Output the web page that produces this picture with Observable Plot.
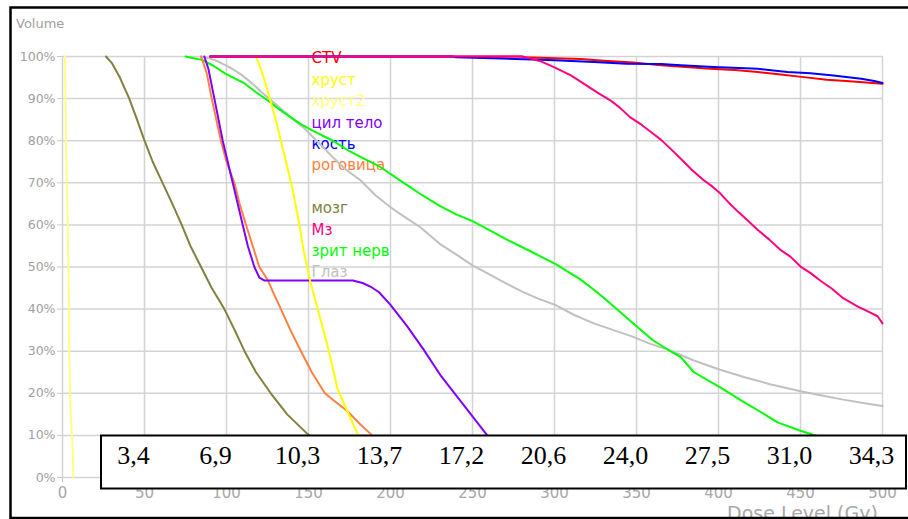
<!DOCTYPE html>
<html><head><meta charset="utf-8">
<script src="https://cdn.jsdelivr.net/npm/d3@7"></script>
<script src="https://cdn.jsdelivr.net/npm/@observablehq/plot@0.6"></script>
<style>html,body{margin:0;padding:0;background:#fff;overflow:hidden} svg{display:block}</style>
</head><body><div id="chart"></div><script>
// ---- tick values / labels ----
const xTicks = [0, 50, 100, 150, 200, 250, 300, 350, 400, 450, 500];
const yTicks = [0, 10, 20, 30, 40, 50, 60, 70, 80, 90, 100];
const boxTickDose = [50, 100, 150, 200, 250, 300, 350, 400, 450, 500];
const boxLabels = ["3,4", "6,9", "10,3", "13,7", "17,2", "20,6", "24,0", "27,5", "31,0", "34,3"];

// ---- series: [dose (Gy), volume (%)] ----
const ctv = [[90,100],[280,100],[282,99.8],[300,99.6],[316,99.4],[330,99.0],[348,98.6],[365,97.9],[380,97.5],[395,97.1],[410,96.8],[424,96.3],[438,95.7],[452,95.1],[466,94.5],[480,94.1],[490,93.8],[500,93.5]];
const khrust = [[118,100],[121,97],[125,92],[130,85],[135,77],[140,69],[144,61],[147,54],[151,46.7],[157.6,37.2],[162.4,30.1],[167.5,21.3],[173.6,15.8],[180,10.3],[184,6],[188,1.5],[189.5,0]];
const khrust2 = [[1.5,100],[2.1,80],[3.2,60],[4,40],[4.1,30],[4.6,20],[5.2,14],[6.2,7],[6.6,0]];
const cilTelo = [[86.5,100],[89,97],[92.6,90],[97.7,80],[103.8,70],[109.9,60],[113,55],[117,50],[120,47.5],[123,46.8],[177,46.8],[183,46.2],[188,45.3],[193,44],[200,41],[210,36],[220,30.5],[231,24],[245,17],[259,10],[270,5],[280,1.5],[288,0]];
const kost = [[90,100],[238,100],[240,99.8],[268,99.5],[300,99.1],[324,98.7],[344,98.3],[365,98.2],[377,97.9],[397,97.5],[424,97.1],[442,96.3],[456,96.0],[470,95.5],[487,94.7],[495,94.2],[500,93.7]];
const rogovica = [[84.5,100],[88,96],[91,90],[96.6,80],[100,75],[104.8,70],[108,65],[111.9,60],[116,55],[120,50],[125,47],[129,43.5],[133.2,40],[139,35],[145.4,30],[152,25],[160,20],[167,17.8],[173.6,15.8],[181.7,12.6],[188,10.3],[195,7],[205,3],[215,0]];
const mozg = [[26.5,100],[30,98.5],[35,95],[40.7,90],[45,85.5],[50,80],[55,75],[61,70],[67,65],[72.7,60],[78,55],[84.5,50],[91,45],[98.7,40],[105,35],[111,30],[118,25],[127,20],[137,15],[149.5,10.3],[160,7],[175,3],[195,0]];
const mz = [[90,100],[280,100],[285,99.6],[292,98.8],[300,97.4],[310,95.5],[318,93.5],[326,91.5],[334,89.6],[340,87.8],[346,85.6],[353,83.8],[360,81.7],[365,80.2],[371,78],[377,75.7],[384,73],[391,70.6],[396,69.2],[401,67.5],[406,65.4],[412,63.1],[418,61],[424,58.8],[431,56.5],[438,54],[444,52.4],[450,50.1],[456,48.6],[462,46.8],[469,44.9],[476,42.6],[485,40.6],[492,39.3],[497,38.3],[500,36.6]];
const zritNerv = [[75,100],[80,99.6],[85,99.2],[92,97.8],[99,96],[105,94.8],[111,93.6],[118,91.5],[125,89.6],[132,87.5],[139,85.6],[145,84],[152,82.5],[158,81.3],[164,80.2],[175,77.5],[185,75.5],[194,73.7],[206,70.5],[218,67.4],[230,64.5],[240,62.5],[250,60.9],[260,58.8],[271,56.5],[285,53.8],[301,50.6],[316,47],[326,44],[336,40.7],[350,35.9],[360,32.6],[369,30.4],[377,28.6],[385,25],[401,21.4],[416,17.8],[426,15.5],[436,13.1],[450,11.1],[466,9.1],[480,7.5],[500,6]];
const glaz = [[84.5,100],[90,99.5],[95,98.8],[102,97.4],[109,95.7],[116,93.5],[123,91],[129,89],[135,87],[141,85],[147,83.1],[155,80],[164,76.4],[172,73.4],[182,70.5],[191,67],[200,64.2],[209,61.8],[218,59.5],[230,55.5],[240,53],[250,50.4],[260,48.3],[271,46],[280,44.2],[290,42.5],[301,40.9],[312,38.6],[324,36.6],[336,35],[348,33.4],[358,31.8],[369,30.4],[385,27.8],[401,25.6],[416,23.8],[432,22.1],[450,20.5],[463,19.5],[476,18.5],[490,17.6],[500,17]];

const seriesNames  = ["CTV", "хруст", "хруст2", "цил тело", "кость", "роговица", "мозг", "Мз", "зрит нерв", "Глаз"];
const seriesColors = ["#ff0000", "#ffff00", "#ffff80", "#8000ff", "#0000ff", "#ff8040", "#808040", "#ff0080", "#00ff00", "#c0c0c0"];
const seriesPoints = {"CTV": ctv, "хруст": khrust, "хруст2": khrust2, "цил тело": cilTelo, "кость": kost, "роговица": rogovica, "мозг": mozg, "Мз": mz, "зрит нерв": zritNerv, "Глаз": glaz};
const drawOrder = ["хруст2", "мозг", "Глаз", "зрит нерв", "роговица", "цил тело", "хруст", "CTV", "кость", "Мз"];
const legendOrder = ["CTV", "хруст", "хруст2", "цил тело", "кость", "роговица", null, "мозг", "Мз", "зрит нерв", "Глаз"];

const rows = drawOrder.flatMap(name => seriesPoints[name].map(([dose, vol]) => ({name, dose, vol})));

const chart = Plot.plot({
  width: 908, height: 519,
  marginLeft: 62, marginRight: 26, marginTop: 56, marginBottom: 42,
  style: {background: "white", fontFamily: "DejaVu Sans, sans-serif"},
  x: {domain: [0, 500]},
  y: {domain: [0, 100]},
  color: {domain: seriesNames, range: seriesColors},
  marks: [
    Plot.ruleX(xTicks, {stroke: "#d3d3d3", strokeWidth: 1.5}),
    Plot.ruleY(yTicks, {stroke: "#d3d3d3", strokeWidth: 1.5}),
    Plot.axisX(xTicks, {tickSize: 5, tickPadding: 5, fontSize: 15, fill: "#a8a8a8", stroke: "#c8c8c8", label: null}),
    Plot.axisY(yTicks, {tickSize: 5, tickPadding: 2, fontSize: 12.5, fill: "#a0a0a0", stroke: "#c8c8c8", tickFormat: d => d + "%", label: null}),
    Plot.line(rows, {x: "dose", y: "vol", z: "name", stroke: "name", strokeWidth: 2, strokeLinejoin: "round"}),
    Plot.text(boxTickDose, {x: d => d, text: (d, i) => boxLabels[i], frameAnchor: "bottom", dy: -14, dx: -11,
      fontSize: 26, fontFamily: "Liberation Serif, serif", fill: "black"})
  ]
});
document.getElementById("chart").appendChild(chart);

const svg = d3.select(chart);
const ns = "http://www.w3.org/2000/svg";

// legend below lines
const legendG = document.createElementNS(ns, "g");
const firstLine = chart.querySelector('g[aria-label="line"]');
chart.insertBefore(legendG, firstLine);
const colorOf = Object.fromEntries(seriesNames.map((n, i) => [n, seriesColors[i]]));
d3.select(legendG).attr("text-anchor", "start").selectAll("text")
  .data(legendOrder.map((n, i) => ({n, i})).filter(d => d.n))
  .join("text")
  .attr("x", 311.5)
  .attr("y", d => 58 + 21.4 * d.i)
  .attr("dy", "0.36em")
  .attr("text-anchor", "start")
  .attr("font-family", "DejaVu Sans, sans-serif")
  .attr("font-size", 15)
  .attr("fill", d => colorOf[d.n])
  .text(d => d.n);

// white box with equivalent-dose labels
const textG = chart.querySelector('g[aria-label="text"]');
const box = document.createElementNS(ns, "rect");
box.setAttribute("x", 101); box.setAttribute("y", 435.5);
box.setAttribute("width", 805); box.setAttribute("height", 53);
box.setAttribute("fill", "white"); box.setAttribute("stroke", "black"); box.setAttribute("stroke-width", 2);
chart.insertBefore(box, textG);

// axis titles
svg.append("text").attr("x", 16).attr("y", 28).attr("font-size", 13).attr("text-anchor", "start")
  .attr("font-family", "DejaVu Sans, sans-serif").attr("fill", "#a0a0a0").text("Volume");
svg.append("text").attr("x", 727).attr("y", 520).attr("font-size", 19).attr("text-anchor", "start")
  .attr("font-family", "DejaVu Sans, sans-serif").attr("fill", "#a8a8a8").text("Dose Level (Gy)");

// outer frame
svg.append("rect").attr("x", 10.5).attr("y", 7.5).attr("width", 940).attr("height", 510.5)
  .attr("fill", "none").attr("stroke", "black").attr("stroke-width", 2.5);
</script></body></html>
